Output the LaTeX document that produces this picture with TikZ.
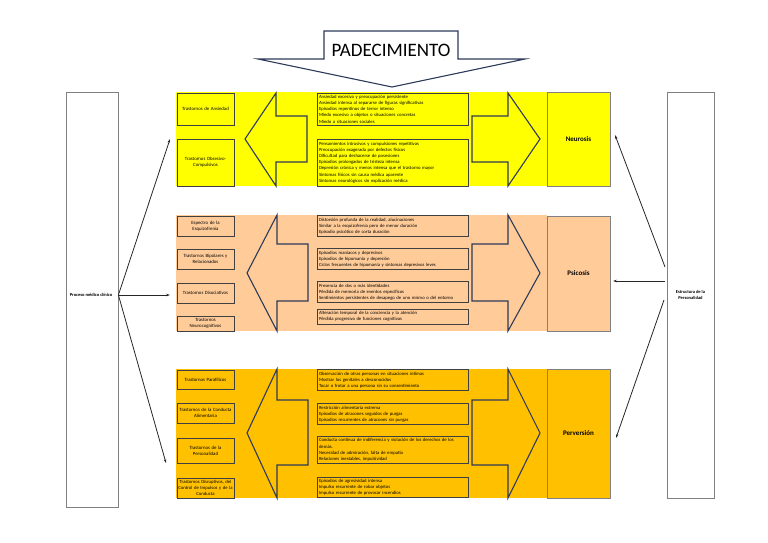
\documentclass[tikz,border=0pt]{standalone}
\usepackage{fontspec}
\setmainfont{Carlito}
\usetikzlibrary{arrows.meta}
\definecolor{yel}{HTML}{FFFF00}
\definecolor{pea}{HTML}{FFCC99}
\definecolor{ora}{HTML}{FFC000}
\definecolor{navy}{HTML}{2E3A59}
\definecolor{bord}{HTML}{404040}
\definecolor{gbord}{HTML}{808080}
\begin{document}
\begin{tikzpicture}[x=1pt,y=-1pt,
  lbox/.style={draw=bord, line width=0.8pt, minimum width=57pt, text width=55pt, align=center, inner sep=1pt, font=\fontsize{4.8}{6.2}\selectfont},
  mbox/.style={draw=bord, line width=0.8pt, minimum width=151pt, text width=147pt, align=left, inner sep=2pt, font=\fontsize{4.7}{6.2}\selectfont},
  cbox/.style={draw=gbord, line width=0.8pt, minimum width=63pt, font=\fontsize{7}{8}\selectfont\bfseries},
  bigbox/.style={draw=gbord, line width=0.8pt, fill=white, align=center, font=\fontsize{4.5}{5.8}\selectfont\bfseries},
  bigarrow/.style={draw=navy, line width=1.1pt, line join=miter},
  conn/.style={draw=black!85, line width=0.8pt, -{Stealth[length=4pt,width=2.6pt]}}]
\useasboundingbox (0,0) rectangle (768,543);
% bands
\fill[yel] (176,92) rectangle (547,186);
\fill[pea] (176,215) rectangle (547,331);
\fill[ora] (176,369) rectangle (547,498);
% header arrow
\draw[bigarrow, fill=white] (324,31) -- (458,31) -- (458,59) -- (525,59) -- (392,87) -- (258,59) -- (324,59) -- cycle;
\node[font=\fontsize{19}{21}\selectfont] (pad) at (391,50) {PADECIMIENTO};
% left-pointing arrows
\draw[bigarrow] (307,116) -- (276,116) -- (276,93) -- (245,139) -- (276,186) -- (276,162) -- (307,162) -- cycle;
\draw[bigarrow] (308,244) -- (277,244) -- (277,215) -- (247,273) -- (277,331) -- (277,301) -- (308,301) -- cycle;
\draw[bigarrow] (308,400) -- (277,400) -- (277,369) -- (247,433) -- (277,498) -- (277,465) -- (308,465) -- cycle;
% right-pointing arrows
\draw[bigarrow] (472,116) -- (508,116) -- (508,93) -- (540,139) -- (508,186) -- (508,162) -- (472,162) -- cycle;
\draw[bigarrow] (472,244) -- (508,244) -- (508,215) -- (540,273) -- (508,331) -- (508,301) -- (472,301) -- cycle;
\draw[bigarrow] (472,400) -- (508,400) -- (508,369) -- (540,433) -- (508,498) -- (508,465) -- (472,465) -- cycle;
% left category boxes
\node[lbox, minimum height=32pt] (y1) at (205.5,109) {Trastornos de Ansiedad};
\node[lbox, minimum height=47pt] (y2) at (205.5,162.5) {Trastornos Obsesivo-\\Compulsivos};
\node[lbox, minimum height=20pt] (p1) at (205.5,226) {Espectro de la\\Esquizofrenia};
\node[lbox, minimum height=20pt] (p2) at (205.5,259) {Trastornos Bipolares y\\Relacionados};
\node[lbox, minimum height=20pt] (p3) at (205.5,293) {Trastornos Disociativos};
\node[lbox, minimum height=15pt] (p4) at (205.5,323.5) {Trastornos\\Neurocognitivos};
\node[lbox, minimum height=19pt] (o1) at (205.5,379.5) {Trastornos Parafílicos};
\node[lbox, minimum height=20pt] (o2) at (205.5,413) {Trastornos de la Conducta\\Alimentaria};
\node[lbox, minimum height=25pt] (o3) at (205.5,450.5) {Trastornos de la\\Personalidad};
\node[lbox, minimum height=20pt, font=\fontsize{4.7}{5.8}\selectfont] (o4) at (205.5,488) {Trastornos Disruptivos, del\\Control de Impulsos y de la\\Conducta};
% middle description boxes
\node[mbox, minimum height=32pt] (ym1) at (392.5,109) {Ansiedad excesiva y preocupación persistente\\Ansiedad intensa al separarse de figuras significativas\\Episodios repentinos de terror intenso\\Miedo excesivo a objetos o situaciones concretas\\Miedo a situaciones sociales};
\node[mbox, minimum height=47pt] (ym2) at (392.5,162.5) {Pensamientos intrusivos y compulsiones repetitivas\\Preocupación exagerada por defectos físicos\\Dificultad para deshacerse de posesiones\\Episodios prolongados de tristeza intensa\\Depresión crónica y menos intensa que el trastorno mayor\\Síntomas físicos sin causa médica aparente\\Síntomas neurológicos sin explicación médica};
\node[mbox, minimum height=20pt] (pm1) at (392.5,226) {Distorsión profunda de la realidad, alucinaciones\\Similar a la esquizofrenia pero de menor duración\\Episodio psicótico de corta duración};
\node[mbox, minimum height=20pt] (pm2) at (392.5,259) {Episodios maníacos y depresivos\\Episodios de hipomanía y depresión\\Ciclos frecuentes de hipomanía y síntomas depresivos leves};
\node[mbox, minimum height=20pt] (pm3) at (392.5,292) {Presencia de dos o más identidades\\Pérdida de memoria de eventos específicos\\Sentimientos persistentes de desapego de uno mismo o del entorno};
\node[mbox, minimum height=15pt] (pm4) at (392.5,316.5) {Alteración temporal de la conciencia y la atención\\Pérdida progresiva de funciones cognitivas};
\node[mbox, minimum height=20pt] (om1) at (392.5,380) {Observación de otras personas en situaciones íntimas\\Mostrar los genitales a desconocidos\\Tocar o frotar a una persona sin su consentimiento};
\node[mbox, minimum height=20pt] (om2) at (392.5,414) {Restricción alimentaria extrema\\Episodios de atracones seguidos de purgas\\Episodios recurrentes de atracones sin purgas};
\node[mbox, minimum height=26pt] (om3) at (392.5,450) {Conducta continua de indiferencia y violación de los derechos de los\\demás.\\Necesidad de admiración, falta de empatía\\Relaciones inestables, impulsividad};
\node[mbox, minimum height=19pt] (om4) at (392.5,487.5) {Episodios de agresividad intensa\\Impulso recurrente de robar objetos\\Impulso recurrente de provocar incendios};
% right column
\node[cbox, fill=yel, minimum height=94pt] (neu) at (578.5,139) {Neurosis};
\node[cbox, fill=pea, minimum height=115pt] (psi) at (578.5,273.5) {Psicosis};
\node[cbox, fill=ora, minimum height=129pt] (per) at (578.5,433.5) {Perversión};
% big side boxes
\node[bigbox, minimum width=52pt, minimum height=415pt] (proc) at (92,299.5) {};
\node[font=\fontsize{4.5}{5.8}\selectfont\bfseries] (proct) at (91,295) {Proceso médico clínico};
\node[bigbox, minimum width=47pt, minimum height=406pt] (estr) at (690.5,295) {Estructura de la\\Personalidad};
% connectors
\coordinate (ps) at (proc.east |- proct.center);
\coordinate (t1) at (170,139);
\coordinate (t2) at (170,295);
\coordinate (t3) at (166,463);
\draw[conn] (ps) -- (t1);
\draw[conn] (ps) -- (t2);
\draw[conn] (ps) -- (t3);
\coordinate (r1s) at (665,267);
\coordinate (r2s) at (665,281);
\coordinate (r3s) at (664,300);
\coordinate (r1) at (615,135);
\coordinate (r2) at (613,281);
\coordinate (r3) at (616,438);
\draw[conn] (r1s) -- (r1);
\draw[conn] (r2s) -- (r2);
\draw[conn] (r3s) -- (r3);
\end{tikzpicture}
\end{document}
